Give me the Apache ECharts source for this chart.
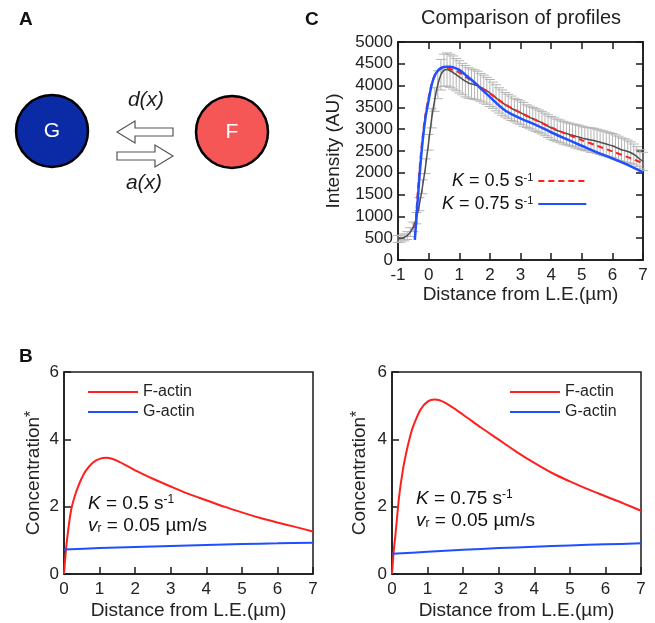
<!DOCTYPE html>
<html>
<head>
<meta charset="utf-8">
<script src="https://cdn.jsdelivr.net/npm/echarts@6/dist/echarts.min.js"></script>
<style>
html, body { margin: 0; padding: 0; background: #fff; }
#chart { width: 655px; height: 623px; }
</style>
</head>
<body>
<div id="chart"></div>
<script>
// panel C: measured profile (mean +/- error), sampled every 0.1 um
const profX = [
  -1.0, -0.9, -0.8, -0.7, -0.6, -0.5, -0.4, -0.3, -0.2, -0.1,
  0.0, 0.1, 0.2, 0.3, 0.4, 0.5, 0.6, 0.7, 0.8, 0.9,
  1.0, 1.1, 1.2, 1.3, 1.4, 1.5, 1.6, 1.7, 1.8, 1.9,
  2.0, 2.1, 2.2, 2.3, 2.4, 2.5, 2.6, 2.7, 2.8, 2.9,
  3.0, 3.1, 3.2, 3.3, 3.4, 3.5, 3.6, 3.7, 3.8, 3.9,
  4.0, 4.1, 4.2, 4.3, 4.4, 4.5, 4.6, 4.7, 4.8, 4.9,
  5.0, 5.1, 5.2, 5.3, 5.4, 5.5, 5.6, 5.7, 5.8, 5.9,
  6.0, 6.1, 6.2, 6.3, 6.4, 6.5, 6.6, 6.7, 6.8, 6.9,
  7.0
];
const profMean = [
  480, 490, 520, 560, 640, 760, 960, 1280, 1680, 2150,
  2700, 3250, 3680, 4020, 4250, 4350, 4370, 4340, 4300, 4250,
  4200, 4150, 4100, 4060, 4040, 4020, 4000, 3960, 3920, 3880,
  3830, 3780, 3720, 3660, 3610, 3560, 3520, 3480, 3440, 3410,
  3380, 3340, 3300, 3270, 3240, 3210, 3180, 3150, 3110, 3070,
  3030, 3000, 2970, 2950, 2920, 2900, 2880, 2860, 2840, 2820,
  2800, 2780, 2770, 2750, 2740, 2720, 2700, 2680, 2660, 2640,
  2620, 2590, 2560, 2530, 2510, 2490, 2460, 2420, 2370, 2310,
  2260
];
const profErr = [
  80, 80, 80, 90, 100, 110, 130, 150, 160, 170,
  180, 220, 270, 320, 350, 370, 380, 380, 380, 370,
  370, 360, 360, 350, 340, 340, 330, 320, 320, 310,
  310, 300, 300, 290, 290, 280, 280, 280, 270, 270,
  270, 270, 260, 260, 260, 260, 260, 260, 260, 260,
  260, 260, 260, 260, 260, 260, 260, 260, 270, 270,
  270, 270, 270, 280, 280, 280, 280, 280, 280, 280,
  280, 280, 280, 270, 270, 260, 250, 240, 230, 220,
  210
];

// panel C: model curves
const modelX = [-0.45, -0.4, -0.3, -0.2, -0.1, 0, 0.1, 0.2, 0.3, 0.4, 0.5, 0.6, 0.7, 0.8, 1.0, 1.25, 1.5, 1.75, 2, 2.5, 3, 3.5, 4, 4.5, 5, 5.5, 6, 6.5, 7];
const modelK05 = [500, 1100, 2050, 2800, 3350, 3730, 4030, 4230, 4340, 4390, 4400, 4395, 4380, 4360, 4300, 4180, 4060, 3940, 3820, 3570, 3380, 3210, 3040, 2890, 2750, 2620, 2490, 2360, 2220];
const modelK075 = [460, 950, 1900, 2700, 3280, 3660, 4020, 4230, 4340, 4400, 4425, 4435, 4435, 4420, 4360, 4220, 4070, 3900, 3740, 3430, 3250, 3100, 2930, 2770, 2620, 2470, 2330, 2180, 2010];

// panel B: simulated concentrations
const concX = [0, 0.05, 0.1, 0.2, 0.3, 0.4, 0.5, 0.6, 0.8, 1.0, 1.2, 1.5, 2, 2.5, 3, 3.5, 4, 4.5, 5, 5.5, 6, 6.5, 7];
const fActinK05 = [0, 0.65, 1.15, 1.9, 2.3, 2.6, 2.85, 3.05, 3.3, 3.42, 3.45, 3.36, 3.08, 2.83, 2.6, 2.38, 2.19, 2.0, 1.83, 1.67, 1.53, 1.4, 1.26];
const fActinK075 = [0, 0.7, 1.2, 2.3, 3.05, 3.6, 4.05, 4.4, 4.88, 5.12, 5.18, 5.08, 4.73, 4.35, 3.99, 3.63, 3.3, 3.0, 2.75, 2.52, 2.31, 2.1, 1.88];
const gX = [0, 1, 2, 3, 4, 5, 6, 7];
const gActinK05 = [0.73, 0.77, 0.8, 0.83, 0.86, 0.89, 0.91, 0.93];
const gActinK075 = [0.6, 0.66, 0.72, 0.77, 0.81, 0.85, 0.88, 0.91];

const FONT = 'Liberation Sans, Arial, Helvetica, sans-serif';
const AX = '#1a1a1a';
const TXT = '#222';
const RED = '#ff1f1f';
const BLUE = '#1f4fff';

function pairs(xs, ys) {
  return xs.map((x, i) => [x, ys[i]]);
}

function renderErrorBar(params, api) {
  const x = api.value(0);
  const lo = api.coord([x, api.value(1)]);
  const hi = api.coord([x, api.value(2)]);
  const w = 5;
  const style = { stroke: '#b4b4b4', lineWidth: 1 };
  return {
    type: 'group',
    children: [
      { type: 'line', shape: { x1: lo[0], y1: lo[1], x2: hi[0], y2: hi[1] }, style: style },
      { type: 'line', shape: { x1: lo[0] - w, y1: lo[1], x2: lo[0] + w, y2: lo[1] }, style: style },
      { type: 'line', shape: { x1: hi[0] - w, y1: hi[1], x2: hi[0] + w, y2: hi[1] }, style: style }
    ]
  };
}

function xAxisFor(gridIndex, min, pos, withLabels, withTicks, nameGap) {
  return {
    gridIndex: gridIndex,
    type: 'value',
    position: pos,
    min: min, max: 7, interval: 1,
    axisLine: { show: true, onZero: false, lineStyle: { color: AX, width: 1.5 } },
    axisTick: { show: withTicks, inside: true, length: 7, lineStyle: { color: AX, width: 1.5 } },
    axisLabel: { show: withLabels, fontSize: 17, color: TXT, margin: 7, fontFamily: FONT },
    splitLine: { show: false },
    name: withLabels ? 'Distance from L.E.(\u00b5m)' : '',
    nameLocation: 'middle',
    nameGap: nameGap,
    nameTextStyle: { fontSize: 19, color: TXT, fontFamily: FONT }
  };
}

function yAxisFor(gridIndex, max, interval, pos, withLabels, withTicks, name, nameGap) {
  return {
    gridIndex: gridIndex,
    type: 'value',
    position: pos,
    min: 0, max: max, interval: interval,
    axisLine: { show: true, onZero: false, lineStyle: { color: AX, width: 1.5 } },
    axisTick: { show: withTicks, inside: true, length: 7, lineStyle: { color: AX, width: 1.5 } },
    axisLabel: {
      show: withLabels, fontSize: 17, color: TXT, margin: 5, fontFamily: FONT,
      formatter: function (v) { return String(v); }
    },
    splitLine: { show: false },
    name: withLabels ? name : '',
    nameLocation: 'middle',
    nameGap: nameGap,
    nameTextStyle: {
      fontSize: 19, color: TXT, fontFamily: FONT,
      rich: { s: { fontSize: 16, color: TXT, verticalAlign: 'top', fontFamily: FONT } }
    }
  };
}

const kLegendText = {
  'K05': '{i|K} = 0.5 s{sup|-1}',
  'K075': '{i|K} = 0.75 s{sup|-1}'
};

const richK = {
  i: { fontStyle: 'italic', fontSize: 19, color: '#111', fontFamily: FONT },
  sup: { fontSize: 12, color: '#111', verticalAlign: 'top', fontFamily: FONT },
  sub: { fontSize: 12, color: '#111', verticalAlign: 'bottom', fontFamily: FONT }
};

function annotation(left, top, kText) {
  return [
    {
      type: 'text', left: left, top: top,
      style: { text: kText, font: '19px ' + FONT, fill: '#111', rich: richK }
    },
    {
      type: 'text', left: left, top: top + 22,
      style: { text: '{i|v}{sub|r} = 0.05 \u00b5m/s', font: '19px ' + FONT, fill: '#111', rich: richK }
    }
  ];
}

const diagram = [
  // G and F pools with the exchange arrows
  { type: 'circle', shape: { cx: 52, cy: 131, r: 36 }, style: { fill: '#0b2aa6', stroke: '#000', lineWidth: 2.5 } },
  { type: 'text', x: 52, y: 131, style: { text: 'G', fill: '#fff', font: '21px ' + FONT, align: 'center', verticalAlign: 'middle' } },
  { type: 'circle', shape: { cx: 232, cy: 132, r: 36 }, style: { fill: '#f55656', stroke: '#000', lineWidth: 2.5 } },
  { type: 'text', x: 232, y: 132, style: { text: 'F', fill: '#fff', font: '21px ' + FONT, align: 'center', verticalAlign: 'middle' } },
  {
    type: 'polygon',
    shape: { points: [[117, 132], [135, 121], [135, 128], [173, 128], [173, 136], [135, 136], [135, 143]] },
    style: { fill: '#fff', stroke: '#555', lineWidth: 1.2 }
  },
  {
    type: 'polygon',
    shape: { points: [[173, 156], [155, 145], [155, 152], [117, 152], [117, 160], [155, 160], [155, 167]] },
    style: { fill: '#fff', stroke: '#555', lineWidth: 1.2 }
  },
  { type: 'text', x: 146, y: 100, style: { text: 'd(x)', fill: '#1a1a1a', font: 'italic 21px ' + FONT, align: 'center', verticalAlign: 'middle' } },
  { type: 'text', x: 144, y: 183, style: { text: 'a(x)', fill: '#1a1a1a', font: 'italic 21px ' + FONT, align: 'center', verticalAlign: 'middle' } }
];

const chart = echarts.init(document.getElementById('chart'), null, { renderer: 'canvas' });

const option = {
  backgroundColor: '#fff',
  animation: false,
  textStyle: { fontFamily: FONT },
  title: [
    { text: 'A', left: 14, top: 5, textStyle: { fontSize: 19, fontWeight: 'bold', color: '#111', fontFamily: FONT } },
    { text: 'B', left: 14, top: 342, textStyle: { fontSize: 19, fontWeight: 'bold', color: '#111', fontFamily: FONT } },
    { text: 'C', left: 300, top: 5, textStyle: { fontSize: 19, fontWeight: 'bold', color: '#111', fontFamily: FONT } },
    { text: 'Comparison of profiles', left: 416, top: 3, textStyle: { fontSize: 20, fontWeight: 'normal', color: TXT, fontFamily: FONT } }
  ],
  grid: [
    { left: 398, top: 42, width: 245, height: 218, show: true, borderColor: AX, borderWidth: 1.5, backgroundColor: 'transparent' },
    { left: 64, top: 372, width: 249, height: 202, show: true, borderColor: AX, borderWidth: 1.5, backgroundColor: 'transparent' },
    { left: 392, top: 372, width: 249, height: 202, show: true, borderColor: AX, borderWidth: 1.5, backgroundColor: 'transparent' }
  ],
  xAxis: [
    xAxisFor(0, -1, 'bottom', true, true, 24),
    xAxisFor(0, -1, 'top', false, true, 0),
    xAxisFor(1, 0, 'bottom', true, true, 27),
    xAxisFor(2, 0, 'bottom', true, true, 27)
  ],
  yAxis: [
    yAxisFor(0, 5000, 500, 'left', true, true, 'Intensity (AU)', 55),
    yAxisFor(0, 5000, 500, 'right', false, true, '', 0),
    yAxisFor(1, 6, 2, 'left', true, true, 'Concentration{s|*}', 21),
    yAxisFor(2, 6, 2, 'left', true, true, 'Concentration{s|*}', 23)
  ],
  legend: [
    {
      data: ['K05', 'K075'],
      orient: 'vertical', left: 437, top: 167, align: 'right',
      itemWidth: 48, itemHeight: 14, itemGap: 5,
      selectedMode: false,
      itemStyle: { opacity: 0 },
      formatter: function (name) { return kLegendText[name]; },
      textStyle: {
        fontSize: 18, color: '#111', fontFamily: FONT, width: 88,
        rich: {
          i: { fontStyle: 'italic', fontSize: 18, color: '#111', fontFamily: FONT },
          sup: { fontSize: 11, color: '#111', verticalAlign: 'top', fontFamily: FONT }
        }
      }
    },
    {
      data: ['F-actin', 'G-actin'],
      orient: 'vertical', left: 82, top: 379,
      itemWidth: 50, itemHeight: 14, itemGap: 4,
      selectedMode: false,
      itemStyle: { opacity: 0 },
      textStyle: { fontSize: 16, color: TXT, fontFamily: FONT }
    },
    {
      data: ['F-actin', 'G-actin'],
      orient: 'vertical', left: 504, top: 379,
      itemWidth: 50, itemHeight: 14, itemGap: 4,
      selectedMode: false,
      itemStyle: { opacity: 0 },
      textStyle: { fontSize: 16, color: TXT, fontFamily: FONT }
    }
  ],
  graphic: diagram
    .concat(annotation(88, 494, '{i|K} = 0.5 s{sup|-1}'))
    .concat(annotation(416, 489, '{i|K} = 0.75 s{sup|-1}')),
  series: [
    {
      name: 'error',
      type: 'custom',
      xAxisIndex: 0, yAxisIndex: 0,
      renderItem: renderErrorBar,
      encode: { x: 0, y: [1, 2] },
      data: profX.map((x, i) => [x, profMean[i] - profErr[i], profMean[i] + profErr[i]]),
      silent: true,
      z: 1
    },
    {
      name: 'data',
      type: 'line',
      xAxisIndex: 0, yAxisIndex: 0,
      data: pairs(profX, profMean),
      symbol: 'none', smooth: 0.2,
      lineStyle: { color: '#4d4d4d', width: 1.5 },
      z: 2
    },
    {
      name: 'K05',
      type: 'line',
      xAxisIndex: 0, yAxisIndex: 0,
      data: pairs(modelX, modelK05),
      symbol: 'none', smooth: 0.3,
      itemStyle: { color: RED },
      lineStyle: { color: RED, width: 2, type: [6, 4] },
      z: 3
    },
    {
      name: 'K075',
      type: 'line',
      xAxisIndex: 0, yAxisIndex: 0,
      data: pairs(modelX, modelK075),
      symbol: 'none', smooth: 0.3,
      itemStyle: { color: BLUE },
      lineStyle: { color: BLUE, width: 2.5 },
      z: 4
    },
    {
      name: 'F-actin', type: 'line', xAxisIndex: 2, yAxisIndex: 2,
      data: pairs(concX, fActinK05), symbol: 'none', smooth: 0.3,
      itemStyle: { color: RED }, lineStyle: { color: RED, width: 2 }
    },
    {
      name: 'G-actin', type: 'line', xAxisIndex: 2, yAxisIndex: 2,
      data: pairs(gX, gActinK05), symbol: 'none', smooth: 0.3,
      itemStyle: { color: BLUE }, lineStyle: { color: BLUE, width: 2 }
    },
    {
      name: 'F-actin', type: 'line', xAxisIndex: 3, yAxisIndex: 3,
      data: pairs(concX, fActinK075), symbol: 'none', smooth: 0.3,
      itemStyle: { color: RED }, lineStyle: { color: RED, width: 2 }
    },
    {
      name: 'G-actin', type: 'line', xAxisIndex: 3, yAxisIndex: 3,
      data: pairs(gX, gActinK075), symbol: 'none', smooth: 0.3,
      itemStyle: { color: BLUE }, lineStyle: { color: BLUE, width: 2 }
    }
  ]
};

chart.setOption(option);
</script>
</body>
</html>
